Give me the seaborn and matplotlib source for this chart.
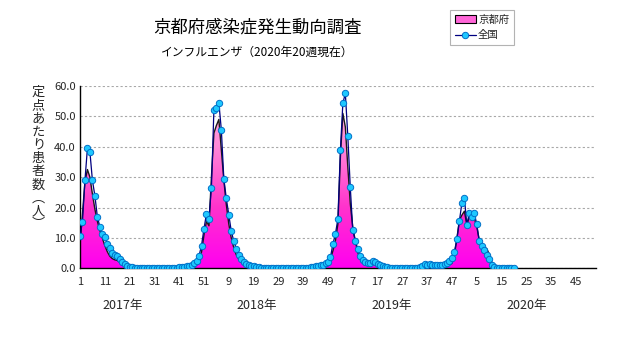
import numpy as np
import pandas as pd
import matplotlib
matplotlib.use("Agg")
import matplotlib.pyplot as plt
import seaborn as sns
from matplotlib.patches import Patch
from matplotlib.lines import Line2D
from matplotlib.colors import LinearSegmentedColormap

# ---------------- data ----------------
title = "京都府感染症発生動向調査"
subtitle = "インフルエンザ（2020年20週現在）"
ylabel_chars = ["定", "点", "あ", "た", "り", "患", "者", "数", "︵", "人", "︶"]
year_labels = ["2017年", "2018年", "2019年", "2020年"]
weeks_per_year = [52, 52, 52, 53]
series_names = ["京都府", "全国"]

nat_2017 = [10.7, 15.4, 29.0, 39.6, 38.3, 29.0, 23.9, 17.0, 13.7, 11.3,
            10.4, 7.9, 6.6, 5.0, 4.5, 4.2, 3.1, 2.0, 1.3, 0.9,
            0.5, 0.3, 0.2, 0.2, 0.1, 0.1, 0.1, 0.1, 0.1, 0.1,
            0.1, 0.1, 0.1, 0.1, 0.1, 0.1, 0.1, 0.2, 0.2, 0.2,
            0.3, 0.4, 0.5, 0.7, 0.9, 1.2, 1.6, 2.3, 4.1, 7.5,
            13.0, 18.0]
nat_2018 = [16.3, 26.5, 52.2, 52.6, 54.5, 45.5, 29.5, 23.0, 17.6, 12.2,
            9.0, 6.5, 4.5, 3.2, 2.1, 1.5, 1.1, 0.8, 0.6, 0.4,
            0.3, 0.2, 0.2, 0.1, 0.1, 0.1, 0.1, 0.1, 0.1, 0.1,
            0.1, 0.1, 0.1, 0.1, 0.1, 0.1, 0.1, 0.1, 0.1, 0.2,
            0.2, 0.3, 0.4, 0.6, 0.8, 1.0, 1.2, 1.7, 2.2, 3.7,
            8.0, 11.3]
nat_2019 = [16.3, 38.8, 54.3, 57.6, 43.4, 26.6, 12.6, 9.1, 6.3, 4.2,
            2.7, 2.2, 1.6, 1.8, 2.5, 2.2, 1.3, 1.0, 0.6, 0.4,
            0.3, 0.2, 0.2, 0.1, 0.1, 0.1, 0.1, 0.1, 0.1, 0.1,
            0.1, 0.1, 0.2, 0.3, 0.9, 1.3, 1.2, 1.4, 1.2, 1.1,
            1.0, 1.0, 1.1, 1.3, 1.8, 2.5, 3.4, 5.5, 9.7, 15.7,
            21.4, 23.3]
nat_2020 = [14.3, 18.3, 17.0, 18.1, 14.5, 9.0, 7.4, 6.0, 4.4, 3.0,
            1.1, 0.3, 0.2, 0.1, 0.1, 0.1, 0.1, 0.0, 0.0, 0.0]

kyo_2017 = [8.0, 18.0, 28.5, 32.5, 30.0, 24.5, 19.5, 15.5, 12.5, 10.0,
            7.5, 5.5, 4.0, 3.2, 2.8, 2.6, 2.0, 1.2, 0.7, 0.4,
            0.2, 0.1, 0.1, 0.1, 0.0, 0.0, 0.0, 0.0, 0.0, 0.0,
            0.0, 0.0, 0.0, 0.0, 0.0, 0.0, 0.1, 0.1, 0.1, 0.1,
            0.1, 0.2, 0.2, 0.3, 0.4, 0.6, 0.9, 1.8, 3.1, 5.3,
            11.0, 15.5]
kyo_2018 = [14.0, 30.0, 44.5, 47.0, 49.0, 39.0, 29.0, 21.0, 14.6, 10.0,
            6.8, 4.5, 3.1, 2.0, 1.3, 0.9, 0.6, 0.4, 0.3, 0.2,
            0.1, 0.1, 0.1, 0.0, 0.0, 0.0, 0.0, 0.0, 0.0, 0.0,
            0.0, 0.0, 0.0, 0.0, 0.0, 0.0, 0.0, 0.0, 0.1, 0.1,
            0.1, 0.1, 0.2, 0.2, 0.3, 0.4, 0.6, 1.2, 2.0, 3.0,
            5.8, 9.1]
kyo_2019 = [14.6, 36.6, 51.0, 46.5, 33.3, 21.2, 13.5, 9.1, 5.3, 3.0,
            2.0, 1.5, 1.2, 1.2, 1.5, 1.4, 0.9, 0.6, 0.4, 0.2,
            0.1, 0.1, 0.1, 0.0, 0.0, 0.0, 0.0, 0.0, 0.0, 0.0,
            0.0, 0.0, 0.1, 0.2, 0.3, 0.4, 0.5, 0.5, 0.5, 0.4,
            0.4, 0.5, 0.5, 0.6, 0.8, 1.2, 1.6, 4.4, 9.9, 15.9,
            17.5, 18.8]
kyo_2020 = [14.3, 17.0, 17.2, 16.5, 13.7, 9.3, 7.3, 6.8, 6.5, 4.7,
            2.2, 0.3, 0.1, 0.1, 0.0, 0.0, 0.0, 0.0, 0.0, 0.0]

national = nat_2017 + nat_2018 + nat_2019 + nat_2020
kyoto = kyo_2017 + kyo_2018 + kyo_2019 + kyo_2020
idx = np.arange(1, len(national) + 1)
df = pd.DataFrame({"idx": idx, "京都府": kyoto, "全国": national})

# week numbers within each year for every category position
week_of_idx = []
for n in weeks_per_year:
    week_of_idx += list(range(1, n + 1))
n_total = sum(weeks_per_year)

# ---------------- style ----------------
sns.set_theme(style="white")
plt.rcParams['font.family'] = ['Noto Sans CJK JP', 'DejaVu Sans']

W, H = 631, 347
fig = plt.figure(figsize=(W / 100, H / 100), dpi=100)
x0, x1, ytop, ybot = 80, 595.8, 86, 268.3
ax = fig.add_axes([x0 / W, (H - ybot) / H, (x1 - x0) / W, (ybot - ytop) / H])

# gradient-filled area for Kyoto
poly = ax.fill_between(df["idx"], df["京都府"], 0, facecolor="none", lw=0)
cmap = LinearSegmentedColormap.from_list("pk", ["#ff00f0", "#ff33cc", "#ff88d8", "#ffb8e6"])
grad = np.linspace(0, 1, 256).reshape(-1, 1)
im = ax.imshow(grad, extent=[1, n_total, 0, 60], origin="lower", aspect="auto",
               cmap=cmap, zorder=1, interpolation="bilinear")
im.set_clip_path(poly.get_paths()[0], ax.transData)

sns.lineplot(data=df, x="idx", y="京都府", ax=ax, color="#1a1a1a", lw=1.0, zorder=2)
sns.lineplot(data=df, x="idx", y="全国", ax=ax, color="#000080", lw=0.9, zorder=3,
             marker="o", markersize=4.6, markerfacecolor="#1ec8ff",
             markeredgecolor="#0070c8", markeredgewidth=0.7)

ax.set_xlim(1, n_total)
ax.set_ylim(0, 60)
ax.set_xlabel("")
ax.set_ylabel("")

# axes styling
for s in ["top", "right"]:
    ax.spines[s].set_visible(False)
for s in ["left", "bottom"]:
    ax.spines[s].set_color("black")
    ax.spines[s].set_linewidth(1.0)

ax.set_yticks(np.arange(0, 61, 10))
ax.set_yticklabels([f"{v:.1f}" for v in np.arange(0, 61, 10)], fontsize=8)
ax.yaxis.grid(True, color="#a8a8a8", linestyle=(0, (2, 2)), lw=0.8)
ax.xaxis.grid(False)
ax.set_axisbelow(True)

xt = list(range(1, n_total + 1, 5))
ax.set_xticks(xt)
ax.set_xticklabels([str(week_of_idx[t - 1]) if (t - 1) % 10 == 0 else "" for t in xt], fontsize=8)
ax.tick_params(axis="x", direction="in", length=3.5, width=0.8, color="black", pad=6.5)
ax.tick_params(axis="y", length=0, pad=3)

# titles
fig.text(257 / W, 1 - 27 / H, title, ha="center", va="center", fontsize=12.5, color="black")
fig.text(257 / W, 1 - 52 / H, subtitle, ha="center", va="center", fontsize=8.5, color="black")

# vertical y-label
for k, ch in enumerate(ylabel_chars):
    fig.text(38.5 / W, 1 - (92.7 + k * 13.2) / H, ch, ha="center", va="center", fontsize=9.5)

# year labels
for xp, lab in zip([123, 257, 392, 527], year_labels):
    fig.text(xp / W, 1 - 305 / H, lab, ha="center", va="center", fontsize=9)

# legend
handles = [Patch(facecolor="#ff66d8", edgecolor="black", lw=0.8),
           Line2D([0], [0], color="#000080", lw=0.9, marker="o", markersize=4.6,
                  markerfacecolor="#1ec8ff", markeredgecolor="#0070c8", markeredgewidth=0.7)]
leg = fig.legend(handles, series_names, loc="upper left", bbox_to_anchor=(450 / W, 1 - 10 / H),
                 fontsize=7.5, frameon=True, fancybox=False, handlelength=2.0,
                 handletextpad=0.25, borderpad=0.45, labelspacing=0.55, borderaxespad=0)
leg.get_frame().set_edgecolor("#a0a0a0")
leg.get_frame().set_linewidth(0.8)

fig.savefig("out.png", dpi=100)
